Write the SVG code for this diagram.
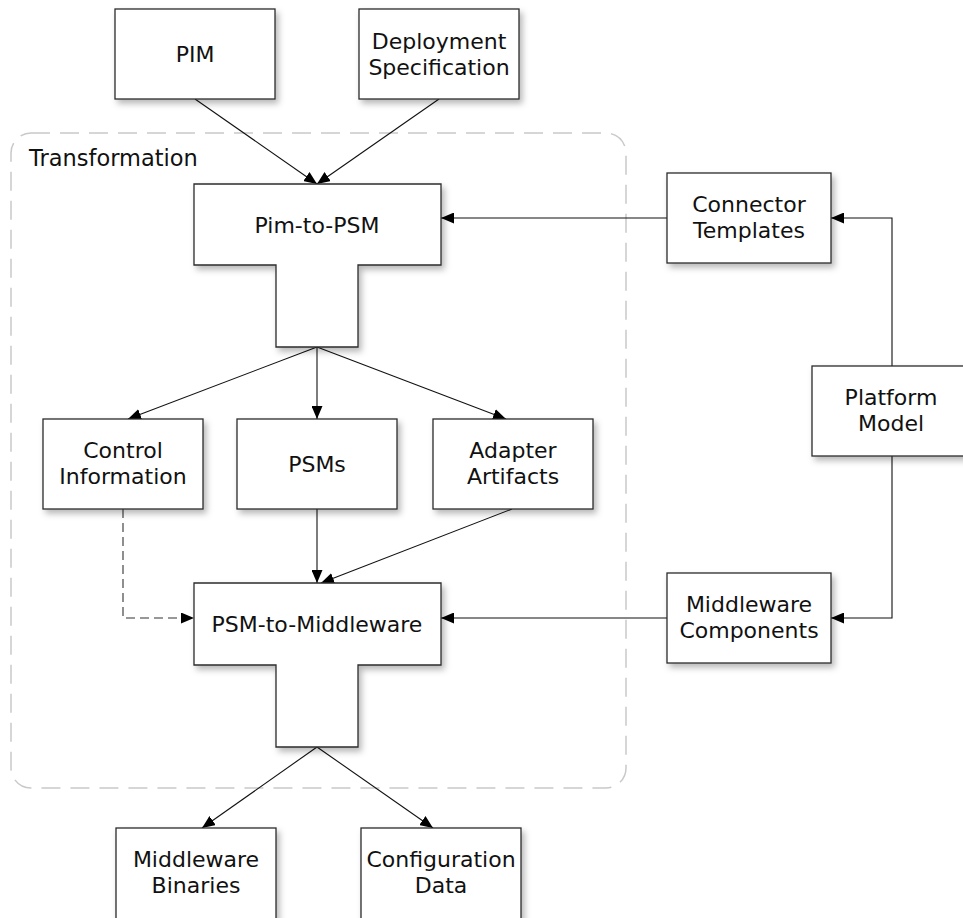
<svg xmlns="http://www.w3.org/2000/svg" width="963" height="918" viewBox="0 0 963 918">
  <style>
    .box { fill: #ffffff; stroke: #2b2b2b; stroke-width: 1.3; filter: url(#shadow); }
    .lbl { font-family: "DejaVu Sans", Verdana, sans-serif; font-size: 22px; fill: #111111; text-anchor: middle; }
    .edge { fill: none; stroke: #111111; stroke-width: 1.1; marker-end: url(#arrow); }
    .dash { stroke-dasharray: 9 5; stroke: #333333; }
    .group { fill: none; stroke: #c9c9c9; stroke-width: 1.5; stroke-dasharray: 19 10; }
  </style>
  <defs>
    <filter id="shadow" x="-20%" y="-20%" width="150%" height="150%">
      <feDropShadow dx="3" dy="4" stdDeviation="3" flood-color="#000000" flood-opacity="0.28"/>
    </filter>
    <marker id="arrow" markerUnits="userSpaceOnUse" markerWidth="13" markerHeight="11" refX="13" refY="5.5" orient="auto">
      <path d="M0,0 L13,5.5 L0,11 z" fill="#000000"/>
    </marker>
  </defs>

  <rect width="963" height="918" fill="#ffffff"/>

  <!-- Transformation boundary -->
  <g id="transformation">
    <rect class="group" x="11" y="133" width="615" height="655" rx="20" ry="20"/>
    <text x="29" y="166" style="font-family: 'DejaVu Sans', Verdana, sans-serif; font-size: 22.5px; fill: #111111;">Transformation</text>
  </g>

  <!-- Connectors -->
  <g id="connectors">
    <line class="edge" x1="195" y1="99" x2="317" y2="184"/>
    <line class="edge" x1="439" y1="99" x2="317" y2="184"/>
    <line class="edge" x1="667" y1="218" x2="441" y2="218"/>
    <polyline class="edge" points="892,366 892,218 831,218"/>
    <polyline class="edge" points="892,456 892,618 831,618"/>
    <line class="edge" x1="317" y1="347" x2="128" y2="419"/>
    <line class="edge" x1="317" y1="347" x2="317" y2="419"/>
    <line class="edge" x1="317" y1="347" x2="506" y2="419"/>
    <line class="edge" x1="317" y1="509" x2="317" y2="583"/>
    <line class="edge" x1="512" y1="509" x2="321" y2="583"/>
    <polyline class="edge dash" points="123,509 123,618 194,618"/>
    <line class="edge" x1="667" y1="618" x2="441" y2="618"/>
    <line class="edge" x1="317" y1="747" x2="202" y2="828"/>
    <line class="edge" x1="317" y1="747" x2="433" y2="828"/>
  </g>

  <!-- Nodes -->
  <g id="pim">
    <rect class="box" x="115" y="9" width="160" height="90"/>
    <text class="lbl" x="195" y="62">PIM</text>
  </g>
  <g id="deployment-specification">
    <rect class="box" x="359" y="9" width="160" height="90"/>
    <text class="lbl" x="439" y="49">Deployment</text>
    <text class="lbl" x="439" y="75">Specification</text>
  </g>
  <g id="pim-to-psm">
    <path class="box" d="M194,184 H441 V265 H358 V347 H276 V265 H194 Z"/>
    <text class="lbl" x="317" y="233">Pim-to-PSM</text>
  </g>
  <g id="connector-templates">
    <rect class="box" x="667" y="173" width="164" height="90"/>
    <text class="lbl" x="749" y="212">Connector</text>
    <text class="lbl" x="749" y="238">Templates</text>
  </g>
  <g id="platform-model">
    <rect class="box" x="812" y="366" width="160" height="90"/>
    <text class="lbl" x="891" y="405">Platform</text>
    <text class="lbl" x="891" y="431">Model</text>
  </g>
  <g id="control-information">
    <rect class="box" x="43" y="419" width="160" height="90"/>
    <text class="lbl" x="123" y="458">Control</text>
    <text class="lbl" x="123" y="484">Information</text>
  </g>
  <g id="psms">
    <rect class="box" x="237" y="419" width="160" height="90"/>
    <text class="lbl" x="317" y="472">PSMs</text>
  </g>
  <g id="adapter-artifacts">
    <rect class="box" x="433" y="419" width="160" height="90"/>
    <text class="lbl" x="513" y="458">Adapter</text>
    <text class="lbl" x="513" y="484">Artifacts</text>
  </g>
  <g id="psm-to-middleware">
    <path class="box" d="M194,583 H441 V665 H358 V747 H276 V665 H194 Z"/>
    <text class="lbl" x="317" y="632">PSM-to-Middleware</text>
  </g>
  <g id="middleware-components">
    <rect class="box" x="667" y="573" width="164" height="90"/>
    <text class="lbl" x="749" y="612">Middleware</text>
    <text class="lbl" x="749" y="638">Components</text>
  </g>
  <g id="middleware-binaries">
    <rect class="box" x="116" y="828" width="160" height="100"/>
    <text class="lbl" x="196" y="867">Middleware</text>
    <text class="lbl" x="196" y="893">Binaries</text>
  </g>
  <g id="configuration-data">
    <rect class="box" x="361" y="828" width="160" height="100"/>
    <text class="lbl" x="441" y="867">Configuration</text>
    <text class="lbl" x="441" y="893">Data</text>
  </g>
</svg>
